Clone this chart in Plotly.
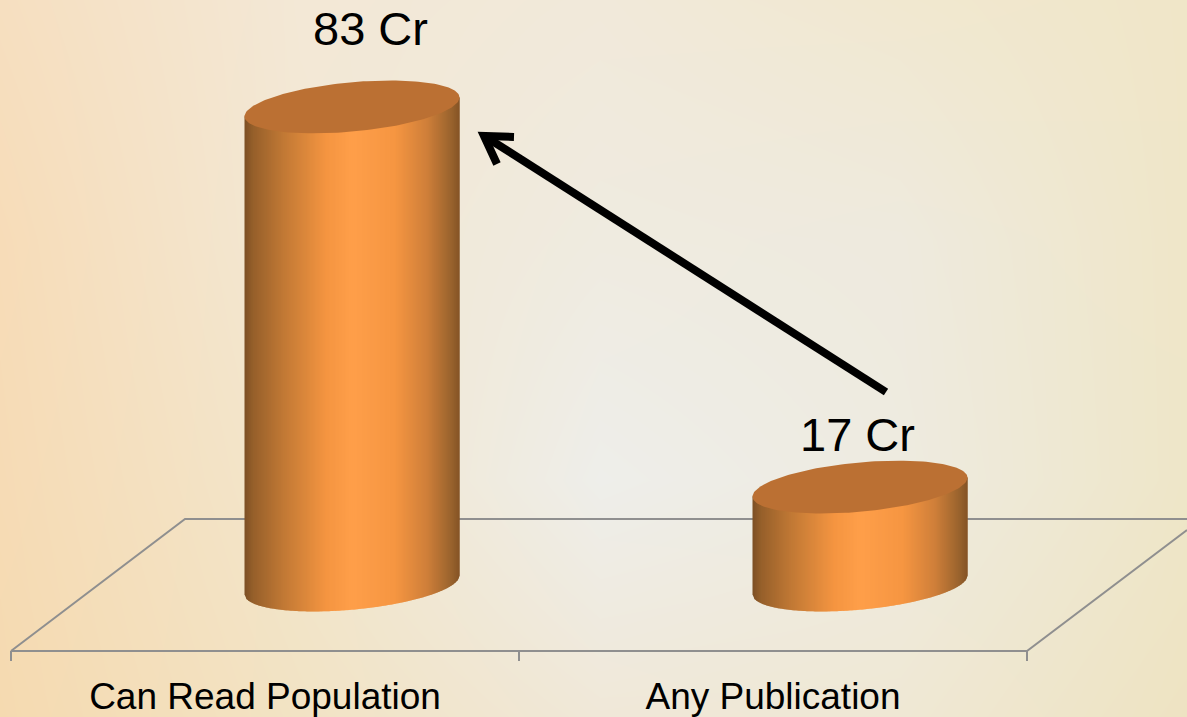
import base64, struct, zlib
import numpy as np
import plotly.graph_objects as go

categories = ["Can Read Population", "Any Publication"]
values = [83, 17]
value_labels = ["83 Cr", "17 Cr"]
label_dx_px = [18, -3]
label_dy_px = [-78, -53]

W, H = 1187, 717
PLOT_B = 651          # pixel row of the axis line
BASE_PY = 585         # pixel row of value 0
PX_PER_UNIT = 5.76
CAT_STEP = 508
CAT0_PX = 265
OFFSET_3D = 87
RX = 107.5
RY = 24.7
SKEW = 0.088

def to_x(px):
    return (px - CAT0_PX) / CAT_STEP

def to_y(py):
    return (BASE_PY - py) / PX_PER_UNIT

def px_paper(px):
    return px / W

def py_paper(py):
    return (PLOT_B - py) / PLOT_B

def hexrgb(h):
    return [int(h[i:i + 2], 16) for i in (1, 3, 5)]

# ---- soft backdrop built from a coarse colour grid
bg_cols = [0, 300, 600, 900, 1187]
bg_rows = [0, 240, 480, 717]
bg_grid = [
    ["#f6dfc0", "#f3e8d6", "#f1e9da", "#f1e8d0", "#f0e6c8"],
    ["#f7dcb8", "#f2e8d4", "#efebe0", "#eeeade", "#efe6c8"],
    ["#f6dbb5", "#f2e6cc", "#eeeeea", "#eeebe0", "#eee6c8"],
    ["#f5dab0", "#f2e3c4", "#f0e8d8", "#efe8d4", "#eee3c2"],
]
grid = np.array([[hexrgb(c) for c in row] for row in bg_grid], dtype=float)
xx, yy = np.arange(W), np.arange(H)
tmp = np.stack([np.stack([np.interp(xx, bg_cols, grid[r, :, c]) for c in range(3)], -1)
                for r in range(len(bg_rows))])
img = np.stack([np.stack([np.interp(yy, bg_rows, tmp[:, x, c]) for c in range(3)], -1)
                for x in range(W)], 1).round().astype(np.uint8)

def png_uri(a):
    raw = b"".join(b"\x00" + row.tobytes() for row in a)
    def chunk(t, d):
        return struct.pack(">I", len(d)) + t + d + struct.pack(">I", zlib.crc32(t + d))
    data = (b"\x89PNG\r\n\x1a\n"
            + chunk(b"IHDR", struct.pack(">IIBBBBB", a.shape[1], a.shape[0], 8, 2, 0, 0, 0))
            + chunk(b"IDAT", zlib.compress(raw, 9)) + chunk(b"IEND", b""))
    return "data:image/png;base64," + base64.b64encode(data).decode()

# ---- cylinder shading
shade_pos = [0.0, 0.04, 0.18, 0.38, 0.5, 0.7, 0.85, 0.96, 1.0]
shade_col = ["#7d5025", "#96602b", "#c17935", "#f59541", "#ff9f4a", "#f69642", "#cf7f3a", "#9a642e", "#855426"]
shade_rgb = np.array([hexrgb(c) for c in shade_col], dtype=float)
TOP_COLOR = "#bb7033"

def shade(u):
    return "rgb(%d,%d,%d)" % tuple(np.interp(u, shade_pos, shade_rgb[:, c]) for c in range(3))

fig = go.Figure()
STEP = 2.0
for i, (cat, v) in enumerate(zip(categories, values)):
    for sx in np.arange(-RX, RX, STEP):
        b = min(sx + STEP + 1.0, RX)
        dxs = np.linspace(sx, b, 4)
        bottom = (SKEW * dxs - RY * np.sqrt(np.clip(1 - (dxs / RX) ** 2, 0, 1))) / PX_PER_UNIT
        top = v + SKEW * dxs / PX_PER_UNIT
        xs = i + (OFFSET_3D + dxs) / CAT_STEP
        fig.add_trace(go.Scatter(
            x=np.r_[xs, xs[::-1]], y=np.r_[bottom, top[::-1]],
            mode="lines", fill="toself", fillcolor=shade((sx + STEP / 2 + RX) / (2 * RX)),
            line=dict(width=0), hoverinfo="skip", showlegend=False))
    t = np.linspace(0, 2 * np.pi, 181)
    dx = RX * np.cos(t)
    fig.add_trace(go.Scatter(
        x=i + (OFFSET_3D + dx) / CAT_STEP,
        y=v + (SKEW * dx + RY * np.sin(t)) / PX_PER_UNIT,
        mode="lines", fill="toself", fillcolor=TOP_COLOR,
        line=dict(width=0), hoverinfo="skip", showlegend=False, name=cat))

# ---- value labels
for i, (v, lab) in enumerate(zip(values, value_labels)):
    fig.add_annotation(x=i + (OFFSET_3D + label_dx_px[i]) / CAT_STEP, y=v, yshift=-label_dy_px[i],
                       text=lab, showarrow=False, xref="x", yref="y",
                       font=dict(family="Liberation Sans, Arial", size=47, color="black"))

# ---- floor and ticks
GRAY = "#8f8f8f"
def seg(pts, width=2, color=GRAY, layer="below"):
    path = "M " + " L ".join(f"{px_paper(a):.5f} {py_paper(b):.5f}" for a, b in pts)
    return dict(type="path", path=path, xref="paper", yref="paper",
                line=dict(color=color, width=width), layer=layer)

shapes = [
    seg([(11, 651), (185, 519), (1187, 519)]),
    seg([(11, 651), (1027, 651), (1187, 530)]),
    seg([(11, 651), (11, 661)]),
    seg([(519, 651), (519, 661)]),
    seg([(1027, 651), (1027, 661)]),
    seg([(886, 392), (486, 137)], width=8, color="black", layer="above"),
    seg([(514, 137), (484, 136), (497, 164)], width=8, color="black", layer="above"),
]

fig.update_layout(
    width=W, height=H, margin=dict(l=0, r=0, t=0, b=H - PLOT_B, pad=0),
    paper_bgcolor="#f2e8d4", plot_bgcolor="rgba(0,0,0,0)", showlegend=False,
    shapes=shapes,
    images=[dict(source=png_uri(img), xref="paper", yref="paper", x=0, y=1,
                 sizex=1, sizey=H / PLOT_B, sizing="stretch", layer="below",
                 xanchor="left", yanchor="top")],
    xaxis=dict(range=[to_x(0), to_x(W)], tickmode="array", tickvals=[0, 1], ticktext=categories,
               showgrid=False, zeroline=False, showline=False, ticks="",
               ticklabelstandoff=20,
               tickfont=dict(family="Liberation Sans, Arial", size=37, color="black")),
    yaxis=dict(range=[to_y(PLOT_B), to_y(0)], visible=False),
)

fig.write_html("out.html", config=dict(displayModeBar=False),
               post_script="document.body.style.margin='0';document.body.style.overflow='hidden';")
